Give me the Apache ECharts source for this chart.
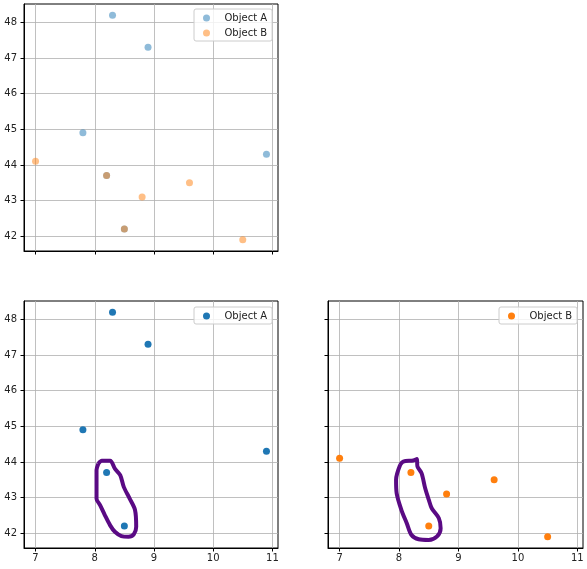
<!DOCTYPE html>
<html>
<head>
<meta charset="utf-8">
<script src="https://cdn.jsdelivr.net/npm/echarts@6/dist/echarts.min.js"></script>
<style>
  html, body { margin: 0; padding: 0; background: #fff; }
  #chart { width: 587px; height: 569px; }
</style>
</head>
<body>
<div id="chart"></div>
<script>
// scatter data
const objectA = [[8.3, 48.2], [8.9, 47.3], [7.8, 44.9], [10.9, 44.3], [8.2, 43.7], [8.5, 42.2]]
const objectB = [[7.0, 44.1], [8.2, 43.7], [8.8, 43.1], [9.6, 43.5], [10.5, 41.9], [8.5, 42.2]]

// hand drawn lasso outlines (data coords)
const lassoA = [
  [8.06, 43.95], [8.12, 44.03], [8.26, 44.03], [8.34, 43.81], [8.43, 43.63], [8.49, 43.30],
  [8.59, 42.97], [8.68, 42.65], [8.70, 42.18], [8.66, 41.97], [8.57, 41.90], [8.45, 41.92],
  [8.34, 42.04], [8.26, 42.22], [8.17, 42.51], [8.09, 42.79], [8.03, 42.97], [8.03, 43.77],
  [8.06, 43.95]
]
const lassoB = [
  [8.02, 43.92], [8.07, 44.01], [8.24, 44.04], [8.30, 44.08], [8.31, 43.87], [8.38, 43.68],
  [8.44, 43.26], [8.50, 42.94], [8.55, 42.70], [8.67, 42.42], [8.70, 42.14], [8.64, 41.91],
  [8.50, 41.81], [8.33, 41.83], [8.21, 41.95], [8.13, 42.28], [8.04, 42.65], [7.96, 43.12],
  [7.95, 43.50], [8.02, 43.92]
]

const xTicks = [7, 8, 9, 10, 11]
const yTicks = [42, 43, 44, 45, 46, 47, 48]

const blue = '#1f77b4'
const orange = '#ff7f0e'
const lassoColor = '#5a0a84'

const chart = echarts.init(document.getElementById('chart'))

// 共用的坐标轴配置
function xAxis(gridIndex, showLabel) {
  return {
    type: 'value',
    gridIndex: gridIndex,
    min: 6.805,
    max: 11.095,
    axisLine: { show: true, onZero: false, lineStyle: { color: '#000', width: 1 } },
    axisTick: { show: true, length: 3.5, customValues: xTicks, lineStyle: { color: '#000' } },
    axisLabel: {
      show: showLabel, customValues: xTicks, margin: 5,
      color: '#222', fontSize: 10, fontFamily: 'DejaVu Sans'
    },
    splitLine: { show: true, lineStyle: { color: '#b0b0b0', width: 0.8 } },
  }
}
function yAxis(gridIndex, showLabel) {
  return {
    type: 'value',
    gridIndex: gridIndex,
    min: 41.585,
    max: 48.515,
    axisLine: { show: true, onZero: false, lineStyle: { color: '#000', width: 1 } },
    axisTick: { show: true, length: 3.5, customValues: yTicks, lineStyle: { color: '#000' } },
    axisLabel: {
      show: showLabel, customValues: yTicks, margin: 7,
      color: '#222', fontSize: 10, fontFamily: 'DejaVu Sans'
    },
    splitLine: { show: true, lineStyle: { color: '#b0b0b0', width: 0.8 } },
  }
}
function legend(left, top, names, labels) {
  return {
    left: left,
    top: top,
    orient: 'vertical',
    align: 'left',
    data: names,
    formatter: function (name) { return labels[names.indexOf(name)] },
    icon: 'circle',
    itemWidth: 26,
    itemHeight: 7,
    itemGap: 3,
    padding: [3, 5, 2, 9],
    backgroundColor: 'rgba(255,255,255,0.8)',
    borderColor: '#cccccc',
    borderWidth: 1,
    borderRadius: 2,
    selectedMode: false,
    textStyle: { color: '#222', fontSize: 10, fontFamily: 'DejaVu Sans', lineHeight: 12 },
  }
}

const option = {
  animation: false,
  backgroundColor: '#fff',
  grid: [
    { left: 24, top: 4, width: 254, height: 247, show: true, borderColor: '#000', borderWidth: 1 },
    { left: 24, top: 301, width: 254, height: 247, show: true, borderColor: '#000', borderWidth: 1 },
    { left: 328, top: 301, width: 255, height: 247, show: true, borderColor: '#000', borderWidth: 1 },
  ],
  xAxis: [xAxis(0, false), xAxis(1, true), xAxis(2, true)],
  yAxis: [yAxis(0, true), yAxis(1, true), yAxis(2, false)],
  legend: [
    legend(194, 9, ['Object A', 'Object B'], ['Object A', 'Object B']),
    legend(194, 307, ['A2'], ['Object A']),
    legend(499, 307, ['B2'], ['Object B']),
  ],
  series: [
    {
      name: 'Object A', type: 'scatter', xAxisIndex: 0, yAxisIndex: 0,
      symbolSize: 7, itemStyle: { color: blue, opacity: 0.5 }, data: objectA,
    },
    {
      name: 'Object B', type: 'scatter', xAxisIndex: 0, yAxisIndex: 0,
      symbolSize: 7, itemStyle: { color: orange, opacity: 0.5 }, data: objectB,
    },
    {
      name: 'A2', type: 'scatter', xAxisIndex: 1, yAxisIndex: 1,
      symbolSize: 7, itemStyle: { color: blue, opacity: 1 }, data: objectA,
    },
    {
      name: 'lassoA', type: 'line', xAxisIndex: 1, yAxisIndex: 1, showSymbol: false,
      smooth: 0.3, lineStyle: { color: lassoColor, width: 4 }, z: 3, data: lassoA,
    },
    {
      name: 'B2', type: 'scatter', xAxisIndex: 2, yAxisIndex: 2,
      symbolSize: 7, itemStyle: { color: orange, opacity: 1 }, data: objectB,
    },
    {
      name: 'lassoB', type: 'line', xAxisIndex: 2, yAxisIndex: 2, showSymbol: false,
      smooth: 0.3, lineStyle: { color: lassoColor, width: 4 }, z: 3, data: lassoB,
    },
  ],
}
chart.setOption(option)
</script>
</body>
</html>
